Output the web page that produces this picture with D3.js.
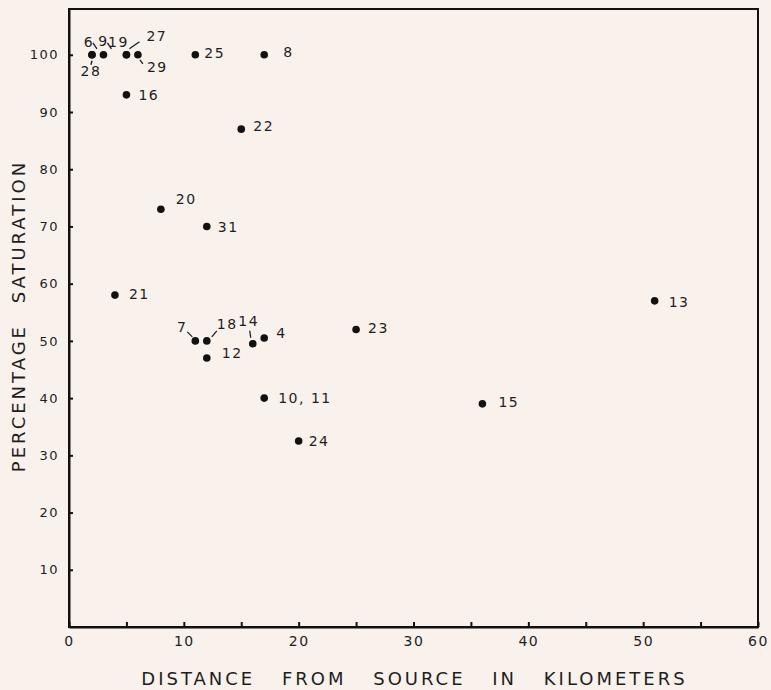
<!DOCTYPE html>
<html>
<head>
<meta charset="utf-8">
<script src="https://d3js.org/d3.v7.min.js"></script>
<style>
  body { margin: 0; background: #f9f1ec; }
  svg { display: block; }
  text { font-family: "DejaVu Sans", sans-serif; fill: #1e1e1e; }
</style>
</head>
<body>
<div id="chart"></div>
<script>
// station numbers, distance (km) and percentage saturation
const labels     = ["6", "28", "9", "19", "27", "29", "25", "8", "16", "22", "20", "31", "21", "7", "18", "12", "14", "4", "10, 11", "24", "23", "15", "13"];
const distance   = [2, 2, 3, 5, 5, 6, 11, 17, 5, 15, 8, 12, 4, 11, 12, 12, 16, 17, 17, 20, 25, 36, 51];
const saturation = [100, 100, 100, 100, 100, 100, 100, 100, 93, 87, 73, 70, 58, 50, 50, 47, 49.5, 50.5, 40, 32.5, 52, 39, 57];

const xTickValues = d3.range(0, 61, 5);
const xTickLabels = [0, 10, 20, 30, 40, 50, 60];
const yTickValues = [10, 20, 30, 40, 50, 60, 70, 80, 90, 100];

const xTitle = "DISTANCE FROM SOURCE IN KILOMETERS";
const yTitle = "PERCENTAGE SATURATION";

// where each number sits next to its dot, and the little pointer strokes
const placement = {
  "6":      {dx: -3, dy: -13, anchor: "middle", leader: [1, -12, 5, -6]},
  "28":     {dx: -1, dy: 16, anchor: "middle", leader: [0, 6, -1, 10]},
  "9":      {dx: 0, dy: -14, anchor: "middle", leader: [4, -12, 8, -6]},
  "19":     {dx: -8, dy: -13, anchor: "middle"},
  "27":     {dx: 20, dy: -19, anchor: "start", leader: [3, -6, 13, -13]},
  "29":     {dx: 9, dy: 12, anchor: "start", leader: [2, 5, 5, 9]},
  "25":     {dx: 9, dy: -2},
  "8":      {dx: 19, dy: -3},
  "16":     {dx: 12, dy: 0},
  "22":     {dx: 12, dy: -3},
  "20":     {dx: 15, dy: -10},
  "31":     {dx: 11, dy: 1},
  "21":     {dx: 14, dy: -1},
  "7":      {dx: -8, dy: -14, anchor: "end", leader: [-8, -9, -3, -4]},
  "18":     {dx: 10, dy: -17, anchor: "start", leader: [5, -4, 10, -10]},
  "12":     {dx: 15, dy: -5},
  "14":     {dx: -4, dy: -23, anchor: "middle", leader: [-3, -13, -2, -6]},
  "4":      {dx: 12, dy: -5},
  "10, 11": {dx: 14, dy: 0},
  "24":     {dx: 10, dy: 0},
  "23":     {dx: 12, dy: -1},
  "15":     {dx: 16, dy: -2},
  "13":     {dx: 14, dy: 1}
};

const points = labels.map((d, i) => ({label: d, x: distance[i], y: saturation[i]}));

const width = 771, height = 690;
const margin = {top: 9, right: 13, bottom: 63, left: 69};

const svg = d3.select("#chart")
  .append("svg")
  .attr("width", width)
  .attr("height", height);

svg.append("rect")
  .attr("width", width)
  .attr("height", height)
  .attr("fill", "#f9f1ec");

const x = d3.scaleLinear()
  .domain([0, 60])
  .range([margin.left, width - margin.right]);

const y = d3.scaleLinear()
  .domain([0, 108])
  .range([height - margin.bottom, margin.top]);

// frame
svg.append("rect")
  .attr("x", x(0))
  .attr("y", y(108))
  .attr("width", x(60) - x(0))
  .attr("height", y(0) - y(108))
  .attr("fill", "none")
  .attr("stroke", "#111")
  .attr("stroke-width", 2);

const xAxis = d3.axisBottom(x)
  .tickValues(xTickValues)
  .tickSizeInner(-5)
  .tickSizeOuter(0)
  .tickPadding(9)
  .tickFormat(d => xTickLabels.includes(d) ? d : "");

const yAxis = d3.axisLeft(y)
  .tickValues(yTickValues)
  .tickSizeInner(-4)
  .tickSizeOuter(0)
  .tickPadding(10);

svg.append("g")
  .attr("transform", `translate(0,${y(0)})`)
  .call(xAxis)
  .call(g => g.select(".domain").attr("stroke", "#111").attr("stroke-width", 2))
  .call(g => g.selectAll(".tick line").attr("stroke", "#111").attr("stroke-width", 2))
  .call(g => g.selectAll(".tick text")
    .attr("font-size", 14)
    .attr("letter-spacing", 1.5)
    .attr("fill", "#2a2a2a"));

svg.append("g")
  .attr("transform", `translate(${x(0)},0)`)
  .call(yAxis)
  .call(g => g.select(".domain").attr("stroke", "#111").attr("stroke-width", 2))
  .call(g => g.selectAll(".tick line").attr("stroke", "#111").attr("stroke-width", 2))
  .call(g => g.selectAll(".tick text")
    .attr("font-size", 13)
    .attr("letter-spacing", 1.5)
    .attr("fill", "#2a2a2a"));

// axis titles
svg.append("text")
  .attr("x", (x(0) + x(60)) / 2 + 1)
  .attr("y", 678)
  .attr("text-anchor", "middle")
  .attr("dominant-baseline", "central")
  .attr("font-size", 18)
  .attr("letter-spacing", 3)
  .attr("word-spacing", 18)
  .attr("fill", "#333")
  .text(xTitle);

svg.append("text")
  .attr("transform", "translate(18,316) rotate(-90)")
  .attr("text-anchor", "middle")
  .attr("dominant-baseline", "central")
  .attr("font-size", 18)
  .attr("letter-spacing", 3)
  .attr("word-spacing", 12)
  .attr("fill", "#333")
  .text(yTitle);

// dots
svg.append("g")
  .selectAll("circle")
  .data(points)
  .join("circle")
  .attr("cx", d => x(d.x))
  .attr("cy", d => y(d.y))
  .attr("r", 3.8)
  .attr("fill", "#111");

// station numbers
const tags = svg.append("g")
  .selectAll("g")
  .data(points)
  .join("g")
  .attr("transform", d => `translate(${x(d.x)},${y(d.y)})`);

tags.append("text")
  .attr("x", d => placement[d.label].dx)
  .attr("y", d => placement[d.label].dy)
  .attr("text-anchor", d => placement[d.label].anchor || "start")
  .attr("dominant-baseline", "central")
  .attr("font-size", 14)
  .attr("letter-spacing", 1.5)
  .text(d => d.label);

tags.filter(d => placement[d.label].leader)
  .append("line")
  .attr("x1", d => placement[d.label].leader[0])
  .attr("y1", d => placement[d.label].leader[1])
  .attr("x2", d => placement[d.label].leader[2])
  .attr("y2", d => placement[d.label].leader[3])
  .attr("stroke", "#1e1e1e")
  .attr("stroke-width", 1.3);
</script>
</body>
</html>
